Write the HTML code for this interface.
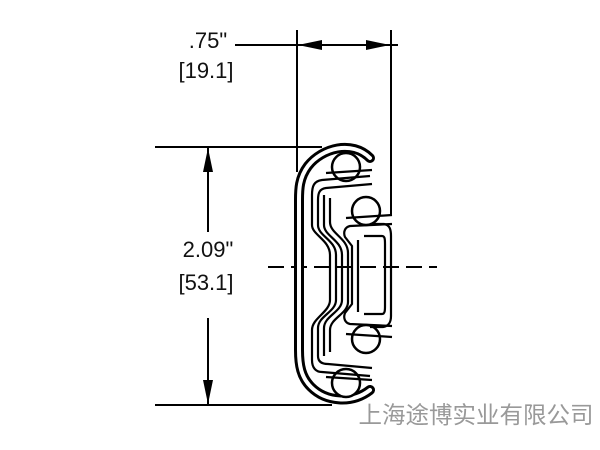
<!DOCTYPE html>
<html><head><meta charset="utf-8"><style>
body{margin:0;background:#fff;}
svg{display:block}
text{font-family:"Liberation Sans",Arial,sans-serif;font-size:22px;fill:#111}
</style></head><body>
<svg width="600" height="450" viewBox="0 0 600 450" xmlns="http://www.w3.org/2000/svg">
<g stroke="#000" stroke-width="2" fill="none">
<line x1="297" y1="30" x2="297" y2="172"/>
<line x1="391" y1="30" x2="391" y2="215"/>
<line x1="235" y1="45" x2="398" y2="45"/>
<line x1="155" y1="147" x2="322" y2="147"/>
<line x1="155" y1="405" x2="332" y2="405"/>
<line x1="208" y1="148" x2="208" y2="232"/>
<line x1="208" y1="318" x2="208" y2="404"/>
<line x1="268" y1="267" x2="437" y2="267" stroke-dasharray="16,7"/>
</g>
<g fill="#000">
<polygon points="298,45 322,40 322,50"/>
<polygon points="390,45 366,40 366,50"/>
<polygon points="208,148 203,172 213,172"/>
<polygon points="208,404 203,380 213,380"/>
</g>
<text x="208" y="48" text-anchor="middle">.75"</text>
<text x="206" y="78" text-anchor="middle">[19.1]</text>
<text x="208" y="257" text-anchor="middle">2.09"</text>
<text x="206" y="290" text-anchor="middle">[53.1]</text>
<g fill="none" stroke-linejoin="round" stroke-linecap="round">
<path d="M370,158 C352,140 322,148 308,166 C299,178 299,190 299,200 L299,350 C299,365 301,377 311,387 C326,402 352,404 370,390" stroke="#000" stroke-width="10"/>
<path d="M370,158 C352,140 322,148 308,166 C299,178 299,190 299,200 L299,350 C299,365 301,377 311,387 C326,402 352,404 370,390" stroke="#fff" stroke-width="4"/>
</g>
<g fill="#fff" stroke="#000" stroke-width="2.5">
<circle cx="346" cy="167" r="14"/>
<circle cx="366" cy="211" r="14"/>
<circle cx="366" cy="339" r="14"/>
<circle cx="346" cy="383" r="14"/>
</g>
<g fill="none" stroke="#000" stroke-width="2.2" stroke-linejoin="round">
<path d="M370,176 L322,180 C314,181 312,186 312,195 L312,225 C312,235 330,240 330,255 L330,300 C330,312 312,318 312,330 L312,360 C312,368 316,372 322,372 L370,376"/>
<path d="M372,184 L326,188 C320,189 318,192 318,200 L318,225 C318,236 336,240 336,255 L336,300 C336,312 318,316 318,328 L318,356 C318,362 322,364 328,364 L372,368"/>
<path d="M324,195 L324,225 C324,236 342,240 342,255 L342,300 C342,312 324,316 324,328 L324,356"/>
<path d="M330,198 L330,222 C330,234 348,238 348,253 L348,302 C348,314 330,318 330,330 L330,352"/>
<!-- inner rail -->
<path d="M392,224 L350,226 C345,227 343,232 345,237 L352,246 L352,304 L345,313 C343,318 345,323 350,324 L392,326"/>
<path d="M370,224 L384,224 C390,225 391,230 391,236 L391,316 C391,322 389,326 383,327 L370,327"/>
<path d="M358,240 L358,312"/>
<path d="M364,236 L382,236 C385,236 385,240 385,244 L385,306 C385,310 385,314 382,314 L364,314"/>
<line x1="326" y1="173" x2="372" y2="170"/>
<line x1="346" y1="218" x2="392" y2="215"/>
<line x1="346" y1="334" x2="392" y2="337"/>
<line x1="326" y1="377" x2="372" y2="380"/>
</g>
<text x="476" y="423" text-anchor="middle" style="font-family:'Liberation Sans','Noto Sans CJK SC',sans-serif;font-size:23.5px;fill:#999">上海途博实业有限公司</text>
</svg>
</body></html>
